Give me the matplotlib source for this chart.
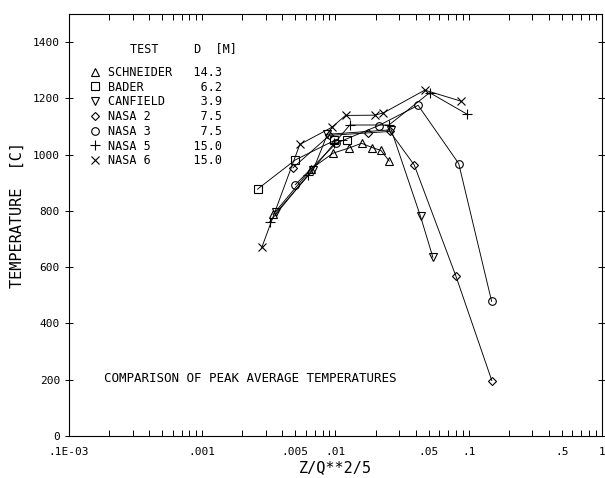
import numpy as np
import matplotlib
matplotlib.use("Agg")
import matplotlib.pyplot as plt
from matplotlib.lines import Line2D
from matplotlib.ticker import FixedLocator, NullFormatter

plt.rcParams['font.family'] = ['DejaVu Sans Mono']

# Z/Q**2/5 and peak temperature readings
schneider_x = [0.0034, 0.0066, 0.0096, 0.0126, 0.0157, 0.0188, 0.0219, 0.0253]
schneider_y = [787, 950, 1005, 1023, 1040, 1025, 1015, 977]
bader_x = [0.0026, 0.0050, 0.0098, 0.0122]
bader_y = [877, 981, 1050, 1050]
canfield_x = [0.0036, 0.0068, 0.0087, 0.0262, 0.0435, 0.0538]
canfield_y = [795, 945, 1072, 1088, 780, 635]
nasa2_x = [0.0048, 0.0090, 0.0175, 0.0256, 0.0390, 0.080, 0.149]
nasa2_y = [953, 1068, 1077, 1082, 963, 569, 197]
nasa3_x = [0.0050, 0.0101, 0.0211, 0.0417, 0.0841, 0.1486]
nasa3_y = [893, 1040, 1103, 1175, 968, 478]
nasa5_x = [0.0032, 0.0062, 0.0098, 0.0128, 0.0252, 0.0509, 0.0975]
nasa5_y = [760, 927, 1040, 1105, 1105, 1220, 1143]
nasa6_x = [0.0028, 0.0054, 0.0094, 0.0119, 0.0197, 0.0229, 0.0468, 0.0871]
nasa6_y = [670, 1036, 1097, 1139, 1140, 1148, 1229, 1190]

tests = ["SCHNEIDER", "BADER", "CANFIELD", "NASA 2", "NASA 3", "NASA 5", "NASA 6"]
diam = ["14.3", "6.2", "3.9", "7.5", "7.5", "15.0", "15.0"]
markers = ['^', 's', 'v', 'D', 'o', '+', 'x']
msizes = [5.5, 5.5, 5.5, 3.8, 5.5, 6.5, 5.5]

xticks = [1e-4, 1e-3, 5e-3, 1e-2, 5e-2, 0.1, 0.5, 1]
xticklabels = ['.1E-03', '.001', '.005', '.01', '.05', '.1', '.5', '1']
yticks = [0, 200, 400, 600, 800, 1000, 1200, 1400]

series = [(schneider_x, schneider_y), (bader_x, bader_y), (canfield_x, canfield_y),
          (nasa2_x, nasa2_y), (nasa3_x, nasa3_y), (nasa5_x, nasa5_y), (nasa6_x, nasa6_y)]

fig = plt.figure(figsize=(6.05, 4.78), dpi=100)
ax = fig.add_axes([0.114, 0.088, 0.881, 0.883])

handles = []
for (xs, ys), m, ms, name, d in zip(series, markers, msizes, tests, diam):
    ax.plot(xs, ys, color='black', lw=0.65, marker=m, ms=ms,
            mfc='none', mec='black', mew=0.8)
    handles.append(Line2D([], [], ls='none', marker=m, ms=ms, mfc='none',
                          mec='black', mew=0.8,
                          label=f"{name:<11}{d:>5}"))

ax.set_xscale('log')
ax.set_xlim(1e-4, 1)
ax.set_ylim(0, 1500)

ax.xaxis.set_major_locator(FixedLocator(xticks))
ax.set_xticklabels(xticklabels, fontsize=8)
minors = [m * 10.0 ** e for e in range(-4, 0) for m in range(2, 10)]
ax.xaxis.set_minor_locator(FixedLocator(minors))
ax.xaxis.set_minor_formatter(NullFormatter())
ax.tick_params(axis='x', which='both', direction='in', top=True, length=4, width=0.7, pad=8)

ax.set_yticks(yticks)
ax.tick_params(axis='y', which='both', direction='inout', right=True, length=6,
               width=0.7, labelsize=8)

for sp in ax.spines.values():
    sp.set_linewidth(0.8)

ax.set_xlabel("Z/Q**2/5", fontsize=11, labelpad=2)
ax.set_ylabel("TEMPERATURE  [C]", fontsize=11, labelpad=8)
ax.yaxis.set_label_coords(-0.082, 0.524)

ax.text(0.114, 0.919, "TEST     D  [M]", transform=ax.transAxes,
        fontsize=8.5, va='center')
ax.legend(handles=handles, loc='upper left', bbox_to_anchor=(0.0375, 0.877),
          frameon=False, fontsize=8.5, labelspacing=0.15, handletextpad=0.6,
          handlelength=1.0, borderpad=0, borderaxespad=0)

ax.text(0.066, 0.135, "COMPARISON OF PEAK AVERAGE TEMPERATURES",
        transform=ax.transAxes, fontsize=9, va='center')

fig.savefig("out.png", dpi=100)
